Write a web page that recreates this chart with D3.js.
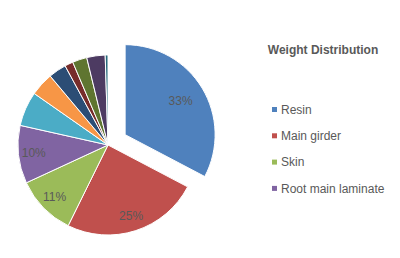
<!DOCTYPE html>
<meta charset="utf-8">
<style>
    body { margin: 0; background: #fff; }
    text { font-family: "Liberation Sans", Arial, sans-serif; fill: #595959; }
</style>
<svg width="400" height="258"></svg>
<script src="https://d3js.org/d3.v7.min.js"></script>
<script>
    // slice names (only the first four fit in the legend)
    var categories = ["Resin", "Main girder", "Skin", "Root main laminate",
        "Shear web", "Root extension", "Core", "Bonding", "Coating", "Lightning protection", "Other"];
    var values = [32.7, 24.6, 10.8, 10.4, 6.2, 4.2, 3.2, 1.5, 2.6, 3.3, 0.5];
    var colors = ["#4F81BD", "#C0504D", "#9BBB59", "#8064A2", "#4BACC6", "#F79646",
        "#2C4D75", "#772C2A", "#5F7530", "#4D3B62", "#276A7C"];
    var legendShown = 4;

    var svg = d3.select("svg"),
            cx = 108, cy = 145, r = 90, explode = 20;

    var data = categories.map(function (c, i) { return {name: c, value: values[i], color: colors[i]}; });
    var total = d3.sum(values);

    var pie = d3.pie().sort(null).value(function (d) { return d.value; });
    var arc = d3.arc().innerRadius(0).outerRadius(r);
    var labelArc = d3.arc().innerRadius(r * 0.83).outerRadius(r * 0.83);
    var labelArcExploded = d3.arc().innerRadius(r * 0.72).outerRadius(r * 0.72);

    function offset(d, i) {
        if (i !== 0) return [0, 0];
        var a = (d.startAngle + d.endAngle) / 2;
        return [Math.sin(a) * explode, -Math.cos(a) * explode];
    }

    var g = svg.append("g").attr("transform", "translate(" + cx + "," + cy + ")");

    var slice = g.selectAll("g.slice")
            .data(pie(data))
            .enter().append("g")
            .attr("class", "slice")
            .attr("transform", function (d, i) { return "translate(" + offset(d, i) + ")"; });

    slice.append("path")
            .attr("d", arc)
            .style("fill", function (d) { return d.data.color; })
            .style("stroke", "#fff")
            .style("stroke-width", 1);

    slice.filter(function (d) { return d.data.value >= 10; })
            .append("text")
            .attr("transform", function (d) {
                var c = d.index === 0 ? labelArcExploded.centroid(d) : labelArc.centroid(d);
                return "translate(" + c + ")";
            })
            .attr("text-anchor", "middle")
            .attr("dy", "0.35em")
            .style("font-size", "12px")
            .text(function (d) { return Math.round(d.data.value / total * 100) + "%"; });

    svg.append("text")
            .attr("x", 323)
            .attr("y", 54)
            .attr("text-anchor", "middle")
            .style("font-size", "12px")
            .style("font-weight", "bold")
            .text("Weight Distribution");

    var legend = svg.selectAll("g.legend")
            .data(data.slice(0, legendShown))
            .enter().append("g")
            .attr("class", "legend")
            .attr("transform", function (d, i) { return "translate(272," + (109.5 + i * 26.3) + ")"; });

    legend.append("rect")
            .attr("x", 0).attr("y", -2.5)
            .attr("width", 5).attr("height", 5)
            .style("fill", function (d) { return d.color; });

    legend.append("text")
            .attr("x", 9)
            .attr("dy", "0.35em")
            .style("font-size", "12px")
            .text(function (d) { return d.name; });
</script>
